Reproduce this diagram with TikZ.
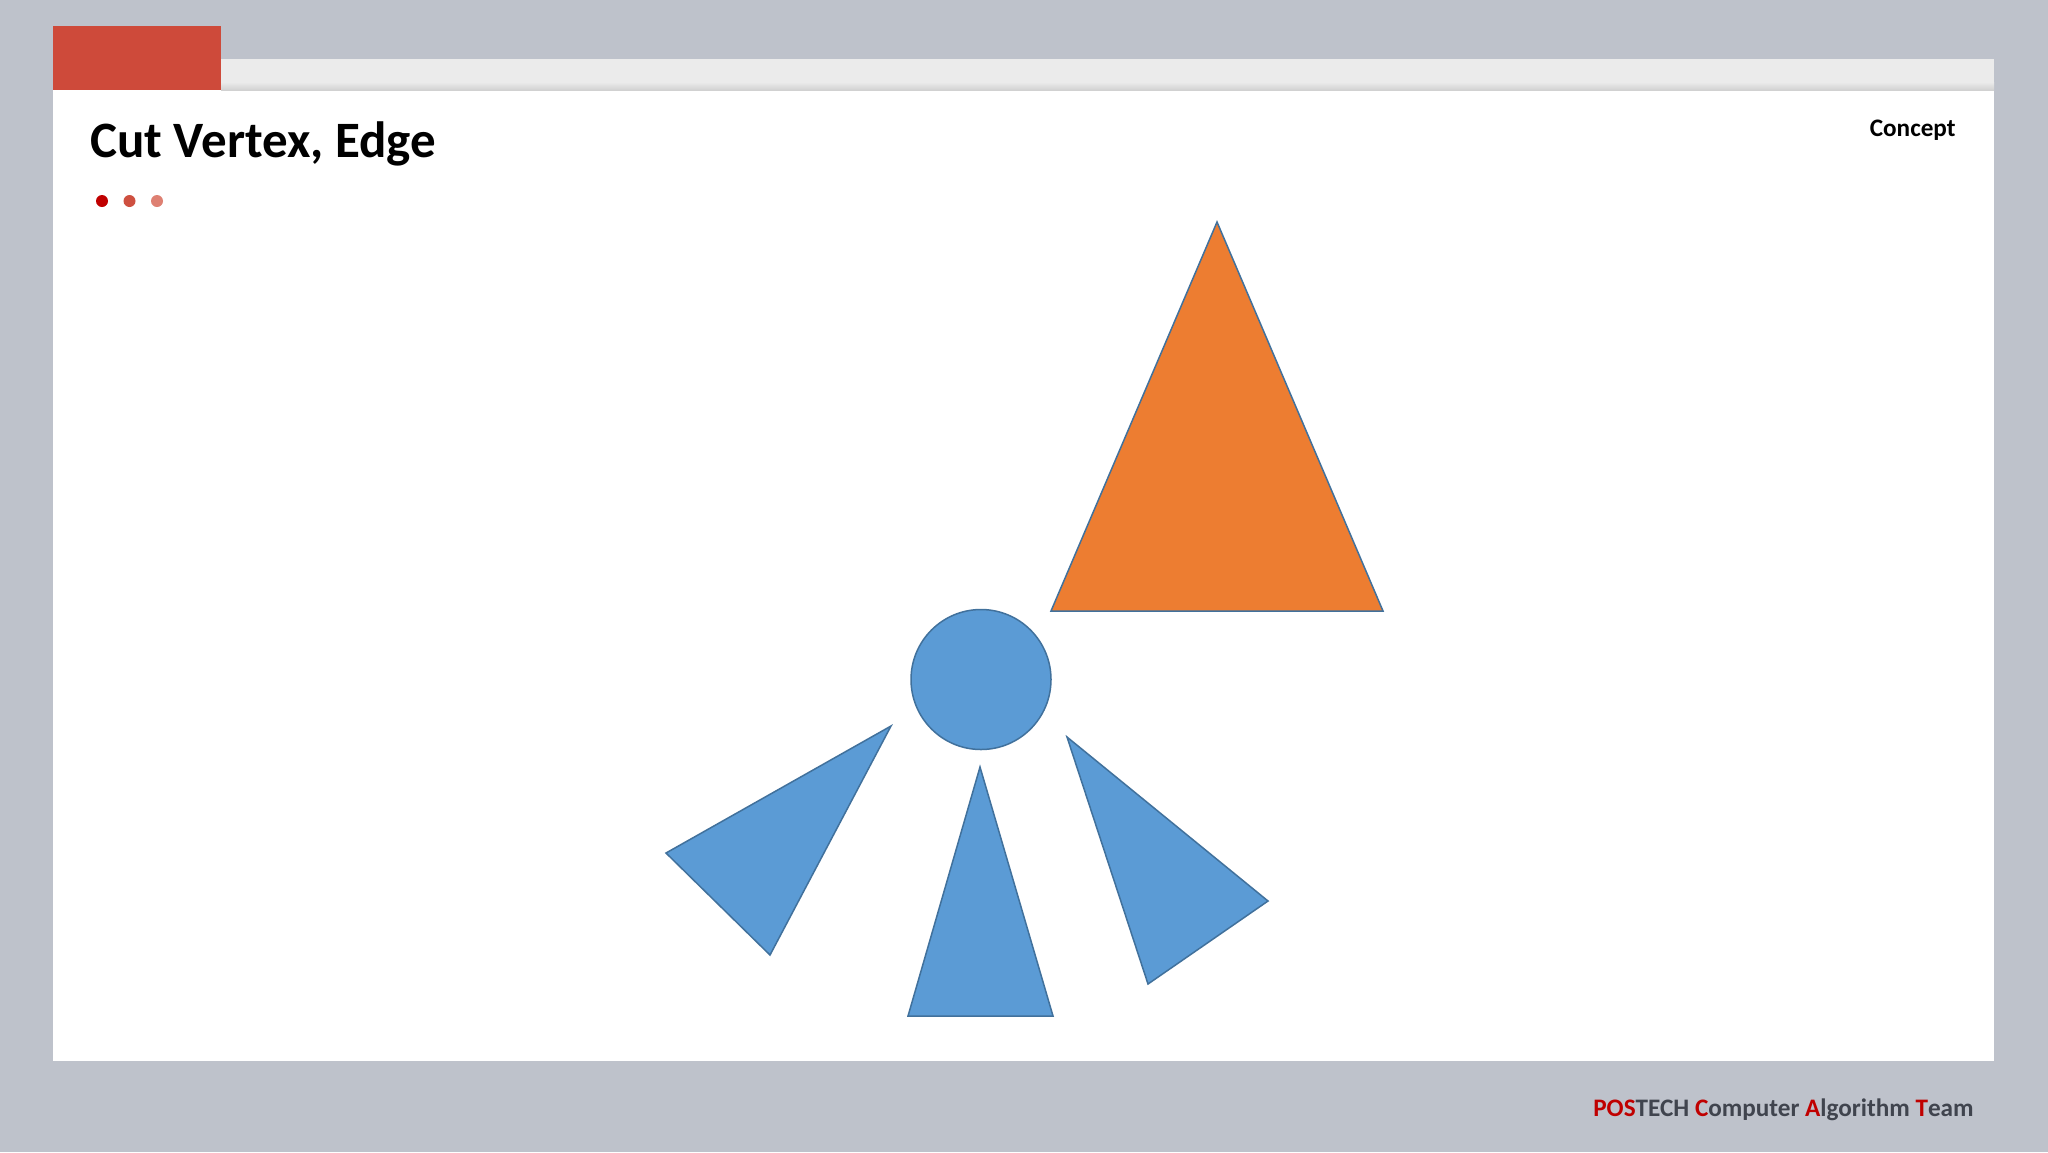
\documentclass[tikz,border=0pt]{standalone}
\usepackage{fontspec}
\setmainfont{Carlito}
\definecolor{bgc}{RGB}{190,194,203}
\definecolor{barc}{RGB}{235,235,235}
\definecolor{redbox}{RGB}{206,74,58}
\definecolor{dotA}{RGB}{192,0,0}
\definecolor{dotB}{RGB}{206,80,64}
\definecolor{dotC}{RGB}{222,128,114}
\definecolor{bluef}{RGB}{91,155,213}
\definecolor{bluel}{RGB}{65,113,156}
\definecolor{orangef}{RGB}{237,125,49}
\definecolor{footgray}{RGB}{64,68,78}
\definecolor{footred}{RGB}{192,0,0}
\tikzset{
  blueshape/.style={fill=bluef, draw=bluel, line width=0.75pt, line join=miter},
  orangeshape/.style={fill=orangef, draw=bluel, line width=0.75pt, line join=miter},
  dotmark/.style={circle, inner sep=0pt, minimum size=6pt},
}
\begin{document}
\begin{tikzpicture}[x=0.5pt,y=-0.5pt]
\useasboundingbox (0,0) rectangle (2048,1152);
% background
\fill[bgc] (0,0) rectangle (2048,1152);
% slide
\fill[white] (53,89) rectangle (1994,1061);
% top bar with shadow
\fill[barc] (221,59) rectangle (1994,89);
\shade[top color=barc, bottom color=black!18] (221,82) rectangle (1994,90);
\fill[redbox] (53,26) rectangle (221,90);
% title
\node[anchor=base west, inner sep=0pt, font=\fontsize{25.5}{30}\selectfont\bfseries] (title) at (90,157) {Cut Vertex, Edge};
% dots
\node[dotmark, fill=dotA] (d1) at (102,201) {};
\node[dotmark, fill=dotB] (d2) at (129.5,201) {};
\node[dotmark, fill=dotC] (d3) at (157,201) {};
% concept
\node[anchor=base east, inner sep=0pt, font=\fontsize{12.6}{15}\selectfont\bfseries] (concept) at (1956,136) {Concept};
% footer
\node[anchor=base east, inner sep=0pt, font=\fontsize{12.6}{16}\selectfont\bfseries, text=footgray] (footer) at (1974,1116)
  {\textcolor{footred}{POS}TECH \textcolor{footred}{C}omputer \textcolor{footred}{A}lgorithm \textcolor{footred}{T}eam};
% orange triangle
\coordinate (oa) at (1217,222);
\coordinate (ob) at (1051,611);
\coordinate (oc) at (1383,611);
\draw[orangeshape] (oa) -- (oc) -- (ob) -- cycle;
% circle
\node[blueshape, circle, minimum size=70pt, inner sep=0pt] (cv) at (981,679.5) {};
% left triangle
\coordinate (la) at (891,726);
\coordinate (lb) at (666,853);
\coordinate (lc) at (770,955);
\draw[blueshape] (la) -- (lb) -- (lc) -- cycle;
% middle triangle
\coordinate (ma) at (980,767);
\coordinate (mb) at (908,1016);
\coordinate (mc) at (1053,1016);
\draw[blueshape] (ma) -- (mc) -- (mb) -- cycle;
% right triangle
\coordinate (ra) at (1067,737);
\coordinate (rb) at (1268,901);
\coordinate (rc) at (1148,984);
\draw[blueshape] (ra) -- (rb) -- (rc) -- cycle;
\end{tikzpicture}
\end{document}
